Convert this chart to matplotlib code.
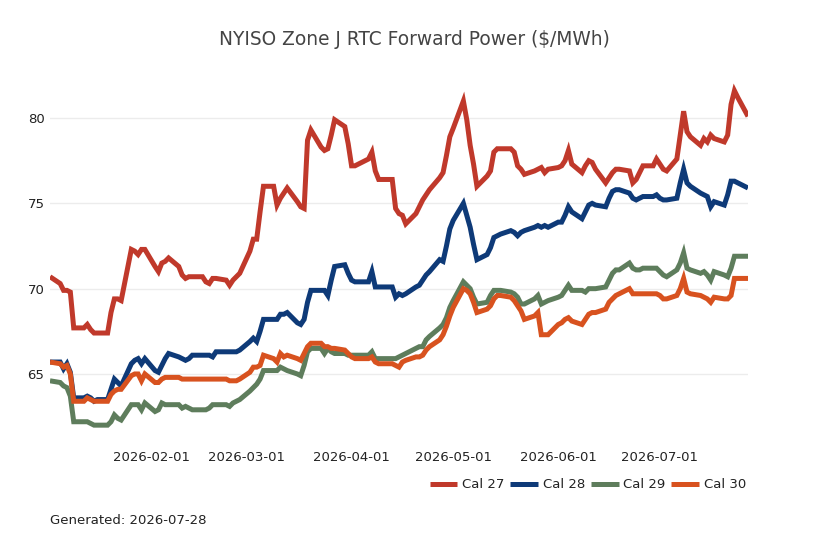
import matplotlib
matplotlib.use("Agg")
import matplotlib.pyplot as plt
import pandas as pd

title = "NYISO Zone J RTC Forward Power ($/MWh)"
generated = "Generated: 2026-07-28"
series_names = ["Cal 27", "Cal 28", "Cal 29", "Cal 30"]
colors = ["#c0392b", "#0e3a78", "#5e7d5c", "#d8521f"]

# business days 2026-01-02 .. 2026-07-27
dates = pd.bdate_range("2026-01-02", "2026-07-27")

cal27 = [
    70.7,
    70.3, 69.9, 69.9, 69.8, 67.7,
    67.7, 67.9, 67.6, 67.4, 67.4,
    67.4, 68.6, 69.4, 69.4, 69.3,
    72.3, 72.2, 72.0, 72.3, 72.3,
    71.3, 71.0, 71.5, 71.6, 71.8,
    71.3, 70.8, 70.6, 70.7, 70.7,
    70.7, 70.4, 70.3, 70.6, 70.6,
    70.5, 70.2, 70.5, 70.7, 70.9,
    72.2, 72.9, 72.9, 74.5, 76.0,
    76.0, 74.9, 75.3, 75.6, 75.9,
    75.1, 74.8, 74.7, 78.7, 79.3,
    78.3, 78.1, 78.2, 79.0, 79.9,
    79.5, 78.5, 77.2, 77.2, 77.3,
    77.6, 78.0, 76.9, 76.4, 76.4,
    76.4, 74.7, 74.4, 74.3, 73.8,
    74.4, 74.8, 75.2, 75.5, 75.8,
    76.5, 76.8, 77.8, 78.9, 79.4,
    81.0, 79.9, 78.4, 77.3, 76.0,
    76.6, 76.9, 78.0, 78.2, 78.2,
    78.2, 78.0, 77.2, 77.0, 76.7,
    76.9, 77.0, 77.1, 76.8, 77.0,
    77.1, 77.2, 77.5, 78.1, 77.3,
    76.8, 77.2, 77.5, 77.4, 77.0,
    76.2, 76.5, 76.8, 77.0, 77.0,
    76.9, 76.2, 76.4, 76.8, 77.2,
    77.2, 77.6, 77.3, 77.0, 76.9,
    77.6, 79.0, 80.4, 79.2, 78.9,
    78.4, 78.8, 78.6, 79.0, 78.8,
    78.6, 79.0, 80.8, 81.6, 81.2,
    80.1,
]

cal28 = [
    65.7,
    65.7, 65.3, 65.6, 65.1, 63.6,
    63.6, 63.7, 63.6, 63.4, 63.5,
    63.5, 64.1, 64.7, 64.5, 64.3,
    65.6, 65.8, 65.9, 65.6, 65.9,
    65.2, 65.1, 65.5, 65.9, 66.2,
    66.0, 65.9, 65.8, 65.9, 66.1,
    66.1, 66.1, 66.1, 66.0, 66.3,
    66.3, 66.3, 66.3, 66.3, 66.4,
    66.9, 67.1, 66.9, 67.5, 68.2,
    68.2, 68.2, 68.5, 68.5, 68.6,
    68.0, 67.9, 68.2, 69.2, 69.9,
    69.9, 69.9, 69.6, 70.5, 71.3,
    71.4, 70.9, 70.5, 70.4, 70.4,
    70.4, 71.0, 70.1, 70.1, 70.1,
    70.1, 69.5, 69.7, 69.6, 69.7,
    70.1, 70.2, 70.5, 70.8, 71.0,
    71.7, 71.6, 72.5, 73.5, 74.0,
    75.0, 74.3, 73.6, 72.6, 71.7,
    72.0, 72.4, 73.0, 73.1, 73.2,
    73.4, 73.3, 73.1, 73.3, 73.4,
    73.6, 73.7, 73.6, 73.7, 73.6,
    73.9, 73.9, 74.3, 74.8, 74.5,
    74.1, 74.5, 74.9, 75.0, 74.9,
    74.8, 75.3, 75.7, 75.8, 75.8,
    75.6, 75.3, 75.2, 75.3, 75.4,
    75.4, 75.5, 75.3, 75.2, 75.2,
    75.3, 76.2, 77.0, 76.2, 76.0,
    75.6, 75.5, 75.4, 74.8, 75.1,
    74.9, 75.5, 76.3, 76.3, 76.2,
    75.9,
]

cal29 = [
    64.6,
    64.5, 64.3, 64.2, 63.7, 62.2,
    62.2, 62.2, 62.1, 62.0, 62.0,
    62.0, 62.2, 62.6, 62.4, 62.3,
    63.2, 63.2, 63.2, 62.9, 63.3,
    62.8, 62.9, 63.3, 63.2, 63.2,
    63.2, 63.0, 63.1, 63.0, 62.9,
    62.9, 62.9, 63.0, 63.2, 63.2,
    63.2, 63.1, 63.3, 63.4, 63.5,
    64.0, 64.2, 64.4, 64.7, 65.2,
    65.2, 65.2, 65.4, 65.3, 65.2,
    65.0, 64.9, 65.5, 66.3, 66.5,
    66.5, 66.2, 66.5, 66.3, 66.2,
    66.2, 66.1, 66.1, 66.1, 66.1,
    66.1, 66.3, 65.9, 65.9, 65.9,
    65.9, 65.9, 66.0, 66.1, 66.2,
    66.5, 66.6, 66.6, 67.0, 67.2,
    67.7, 67.9, 68.3, 68.9, 69.3,
    70.4, 70.2, 70.0, 69.5, 69.1,
    69.2, 69.6, 69.9, 69.9, 69.9,
    69.8, 69.7, 69.5, 69.1, 69.1,
    69.4, 69.6, 69.1, 69.2, 69.3,
    69.5, 69.6, 69.9, 70.2, 69.9,
    69.9, 69.8, 70.0, 70.0, 70.0,
    70.1, 70.5, 70.9, 71.1, 71.1,
    71.5, 71.2, 71.1, 71.1, 71.2,
    71.2, 71.2, 71.0, 70.8, 70.7,
    71.1, 71.5, 72.1, 71.2, 71.1,
    70.9, 71.0, 70.8, 70.5, 71.0,
    70.8, 70.7, 71.2, 71.9, 71.9,
    71.9,
]

cal30 = [
    65.7,
    65.6, 65.4, 65.5, 65.0, 63.4,
    63.4, 63.6, 63.5, 63.4, 63.4,
    63.4, 63.8, 64.0, 64.1, 64.1,
    64.9, 65.0, 65.0, 64.6, 65.0,
    64.5, 64.5, 64.7, 64.8, 64.8,
    64.8, 64.7, 64.7, 64.7, 64.7,
    64.7, 64.7, 64.7, 64.7, 64.7,
    64.7, 64.6, 64.6, 64.6, 64.7,
    65.1, 65.4, 65.4, 65.5, 66.1,
    65.9, 65.7, 66.2, 66.0, 66.1,
    65.9, 65.8, 66.2, 66.6, 66.8,
    66.8, 66.6, 66.6, 66.5, 66.5,
    66.4, 66.2, 66.0, 65.9, 65.9,
    65.9, 66.0, 65.7, 65.6, 65.6,
    65.6, 65.5, 65.4, 65.7, 65.8,
    66.0, 66.0, 66.1, 66.4, 66.6,
    67.0, 67.3, 67.8, 68.4, 68.9,
    70.0, 69.9, 69.7, 69.2, 68.6,
    68.8, 69.0, 69.4, 69.6, 69.6,
    69.5, 69.3, 69.0, 68.7, 68.2,
    68.4, 68.6, 67.3, 67.3, 67.3,
    67.9, 68.0, 68.2, 68.3, 68.1,
    67.9, 68.2, 68.5, 68.6, 68.6,
    68.8, 69.2, 69.4, 69.6, 69.7,
    70.0, 69.7, 69.7, 69.7, 69.7,
    69.7, 69.7, 69.6, 69.4, 69.4,
    69.6, 70.0, 70.6, 69.8, 69.7,
    69.6, 69.5, 69.4, 69.2, 69.5,
    69.4, 69.4, 69.6, 70.6, 70.6,
    70.6,
]

y_ticks = [65, 70, 75, 80]
x_ticks = ["2026-02-01", "2026-03-01", "2026-04-01", "2026-05-01", "2026-06-01", "2026-07-01"]

plt.rcParams["font.family"] = ["DejaVu Sans"]
fig = plt.figure(figsize=(8.18, 5.45), dpi=100)
W, H = 818, 545
ax = fig.add_axes([50 / W, (H - 440) / H, 698 / W, 360 / H])

all_series = [cal27, cal28, cal29, cal30]
for name, vals, col in zip(series_names, all_series, colors):
    n = min(len(dates), len(vals))
    ax.plot(dates[:n], vals[:n], color=col, lw=3.6, label=name,
            solid_joinstyle="miter", solid_capstyle="butt")

ax.set_xlim(dates[0], dates[-1])
ax.set_ylim(61.13, 82.23)
ax.set_yticks(y_ticks)
ax.set_yticklabels([str(t) for t in y_ticks])
ax.set_xticks(pd.to_datetime(x_ticks))
ax.set_xticklabels(x_ticks)
ax.tick_params(axis="both", length=0, labelsize=9.5, colors="#222222")
ax.tick_params(axis="x", pad=8)
ax.tick_params(axis="y", pad=4)
ax.grid(axis="y", color="#ececec", lw=1.0)
ax.grid(axis="x", visible=False)
ax.set_axisbelow(True)
for s in ax.spines.values():
    s.set_visible(False)

fig.text(414 / W, 1 - 39 / H, title, ha="center", va="center",
         fontsize=13.4, color="#444444")
fig.text(50 / W, 1 - 520 / H, generated, ha="left", va="center",
         fontsize=9.5, color="#222222")

leg = fig.legend(loc="center right", bbox_to_anchor=(746 / W, 1 - 485 / H),
                 ncol=4, frameon=False, fontsize=9.5, handlelength=2.1,
                 handletextpad=0.35, columnspacing=0.45, borderpad=0.0,
                 borderaxespad=0.0)
for t in leg.get_texts():
    t.set_color("#222222")

fig.savefig("out.png", dpi=100)
